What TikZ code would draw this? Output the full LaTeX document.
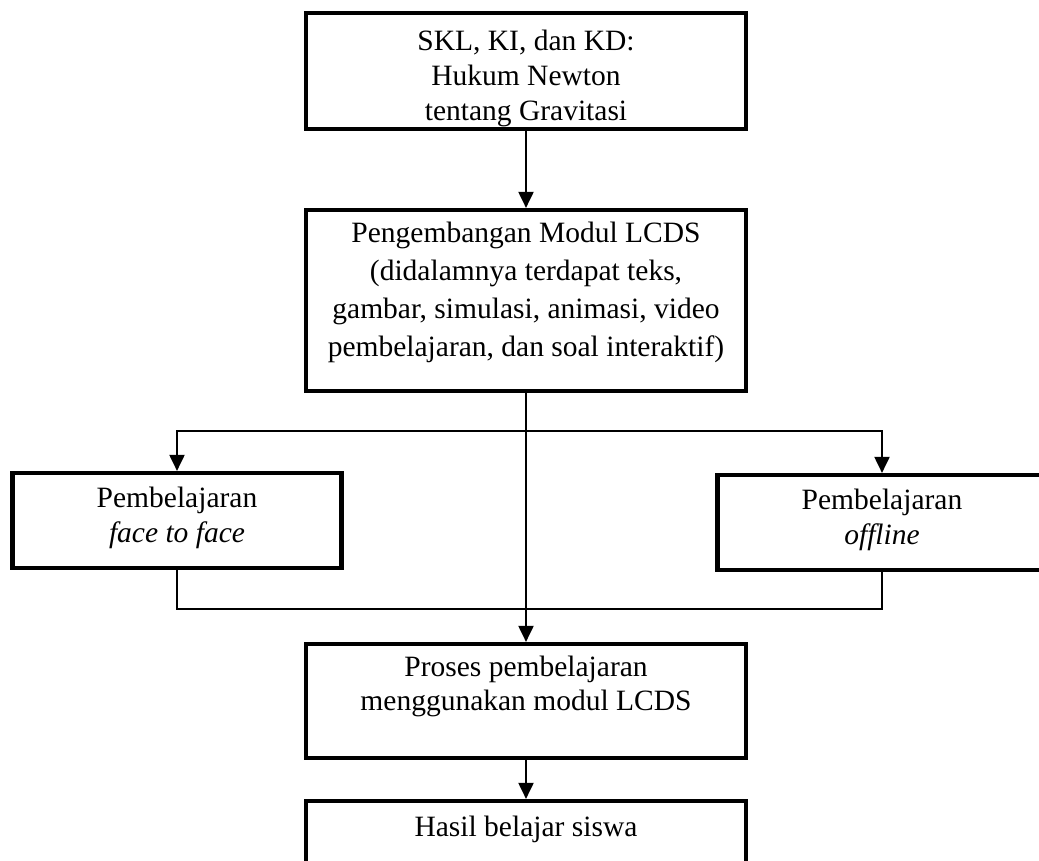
\documentclass[tikz,border=0pt]{standalone}
\usepackage{fontspec}
\setmainfont{Liberation Serif}
\usetikzlibrary{arrows.meta}

\begin{document}
\begin{tikzpicture}[x=1pt,y=-1pt,
  box/.style={draw=black, line width=4.2pt, fill=white, rectangle, inner sep=0pt},
  txt/.style={align=center, inner sep=0pt, anchor=north},
  conn/.style={draw=black, line width=2pt},
  arr/.style={conn, -{Triangle[width=15pt,length=16pt]}}]

\useasboundingbox (0,0) rectangle (1039,860);

% boxes
\node[box, minimum width=440pt, minimum height=116pt] (b1) at (526,71) {};
\node[box, minimum width=440pt, minimum height=181pt] (b2) at (526,300.5) {};
\node[box, minimum width=329pt, minimum height=95pt] (bl) at (177,520.5) {};
\node[box, minimum width=329pt, minimum height=95pt] (br) at (882,522.5) {};
\node[box, minimum width=440pt, minimum height=114pt] (b3) at (526,701) {};
\node[box, minimum width=440pt, minimum height=116pt] (b4) at (526,859) {};

% texts
\node[txt, font=\fontsize{29.5}{35}\selectfont] (t1) at (526,30)
  {SKL, KI, dan KD:\\Hukum Newton\\tentang Gravitasi};
\node[txt, font=\fontsize{29.5}{38}\selectfont] (t2) at (526,222)
  {Pengembangan Modul LCDS\\(didalamnya terdapat teks,\\gambar, simulasi, animasi, video\\pembelajaran, dan soal interaktif)};
\node[txt, font=\fontsize{29.5}{35}\selectfont] (tl) at (177,487)
  {Pembelajaran\\\textit{face to face}};
\node[txt, font=\fontsize{29.5}{35}\selectfont] (tr) at (882,489)
  {Pembelajaran\\\textit{offline}};
\node[txt, font=\fontsize{29.5}{34}\selectfont] (t3) at (526,656)
  {Proses pembelajaran\\menggunakan modul LCDS};
\node[txt, font=\fontsize{29.5}{34}\selectfont] (t4) at (526,816)
  {Hasil belajar siswa};

% connectors
\coordinate (split) at (526,431);
\coordinate (join) at (526,609);
\draw[arr] (b1.south) -- (b2.north);
\draw[arr] (b2.south) -- (b3.north);
\draw[arr] (split) -| (bl.north);
\draw[arr] (split) -| (br.north);
\draw[conn] (bl.south) |- (join) -| (br.south);
\draw[arr] (b3.south) -- (b4.north);
\end{tikzpicture}
\end{document}
